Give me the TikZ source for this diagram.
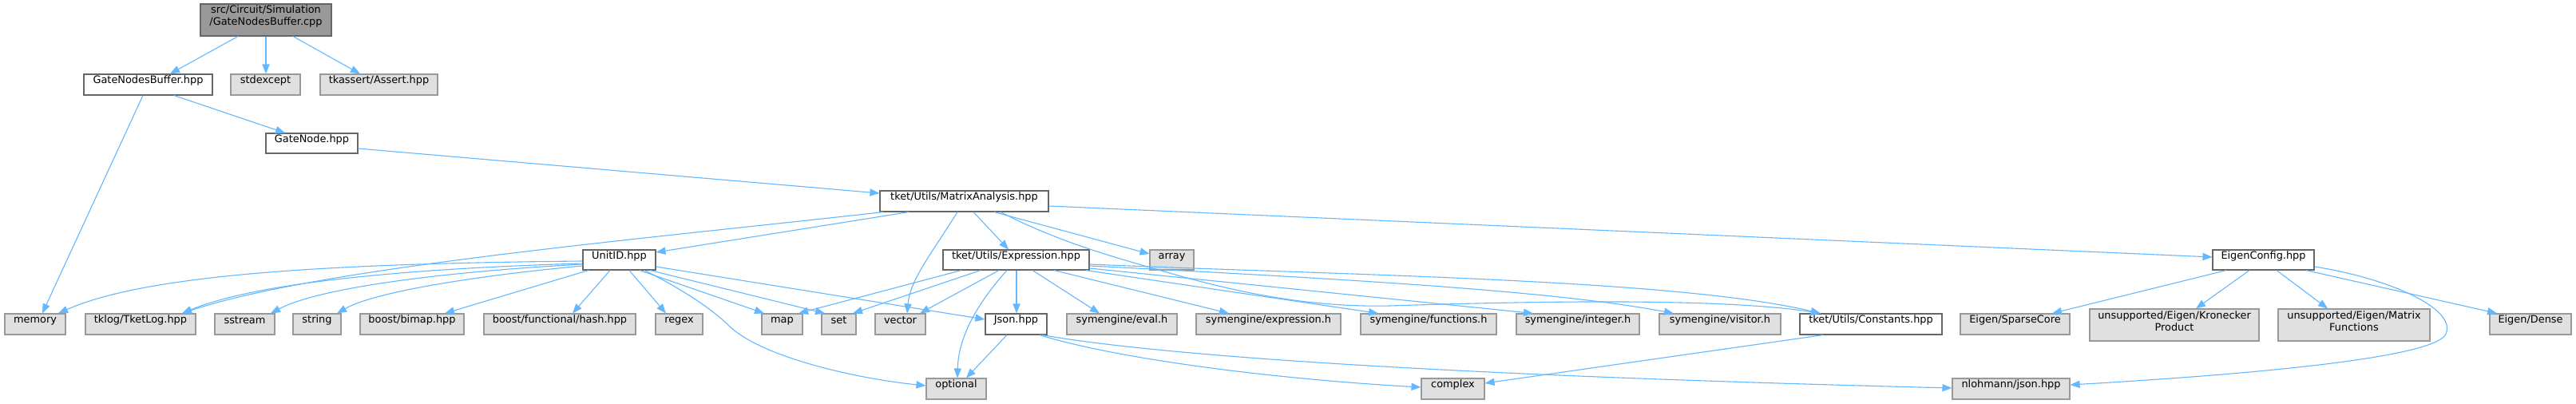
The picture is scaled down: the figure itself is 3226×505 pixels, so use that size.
\documentclass[tikz,border=0pt]{standalone}
\usepackage{fontspec}
\newfontfamily\dvs{DejaVu Sans}
\usetikzlibrary{fit,arrows.meta}
\definecolor{edgec}{HTML}{63B8FF}
\definecolor{extfill}{HTML}{E0E0E0}
\definecolor{extdraw}{HTML}{999999}
\definecolor{locdraw}{HTML}{666666}
\definecolor{rootfill}{HTML}{999999}
\tikzset{
 box/.style={draw, rectangle, inner sep=0pt, line width=0.55pt, align=center,
   font={\dvs\fontsize{6.45pt}{7.4pt}\selectfont}},
 ext/.style={box, fill=extfill, draw=extdraw},
 loc/.style={box, fill=white, draw=locdraw},
 root/.style={box, fill=rootfill, draw=locdraw},
 dep/.style={draw=edgec, line width=0.55pt, -{Triangle[length=6pt,width=4.6pt]}},
}
\begin{document}
\begin{tikzpicture}[x=0.5pt,y=-0.5pt]
\fill[white] (0,0) rectangle (3226,505);
\useasboundingbox (0,0) rectangle (3226,505);
% nodes
\node[root, fit={(251,5) (415,45)}] (cpp) {src/Circuit/Simulation\\/GateNodesBuffer.cpp};
\node[loc, fit={(105,93) (266,119)}] (gnb) {GateNodesBuffer.hpp};
\node[ext, fit={(289,93) (376,119)}] (stdexcept) {stdexcept};
\node[ext, fit={(401,93) (548,119)}] (assert) {tkassert/Assert.hpp};
\node[loc, fit={(333,167) (448,192)}] (gatenode) {GateNode.hpp};
\node[loc, fit={(1102,239) (1313,265)}] (ma) {tket/Utils/MatrixAnalysis.hpp};
\node[loc, fit={(730,313) (821,338)}] (unitid) {UnitID.hpp};
\node[loc, fit={(1181,313) (1364,338)}] (expr) {tket/Utils/Expression.hpp};
\node[ext, fit={(1440,313) (1495,338)}] (array) {array};
\node[loc, fit={(2771,313) (2898,338)}] (ec) {EigenConfig.hpp};
\node[ext, fit={(6,393) (82,419)}] (memory) {memory};
\node[ext, fit={(107,393) (245,419)}] (tklog) {tklog/TketLog.hpp};
\node[ext, fit={(269,393) (344,419)}] (sstream) {sstream};
\node[ext, fit={(367,393) (427,419)}] (string) {string};
\node[ext, fit={(451,393) (581,419)}] (bimap) {boost/bimap.hpp};
\node[ext, fit={(606,393) (796,419)}] (hash) {boost/functional/hash.hpp};
\node[ext, fit={(821,393) (880,419)}] (regex) {regex};
\node[ext, fit={(954,393) (1005,419)}] (map) {map};
\node[ext, fit={(1029,393) (1072,419)}] (set) {set};
\node[ext, fit={(1096,393) (1159,419)}] (vector) {vector};
\node[loc, fit={(1234,393) (1311,419)}] (json) {Json.hpp};
\node[ext, fit={(1336,393) (1474,419)}] (eval) {symengine/eval.h};
\node[ext, fit={(1498,393) (1679,419)}] (symexpr) {symengine/expression.h};
\node[ext, fit={(1704,393) (1874,419)}] (functions) {symengine/functions.h};
\node[ext, fit={(1899,393) (2053,419)}] (integer) {symengine/integer.h};
\node[ext, fit={(2078,393) (2230,419)}] (visitor) {symengine/visitor.h};
\node[loc, fit={(2254,393) (2432,419)}] (constants) {tket/Utils/Constants.hpp};
\node[ext, fit={(2455,393) (2592,419)}] (sparse) {Eigen/SparseCore};
\node[ext, fit={(2617,387) (2829,427)}] (kron) {unsupported/Eigen/Kronecker\\Product};
\node[ext, fit={(2853,387) (3043,427)}] (matfun) {unsupported/Eigen/Matrix\\Functions};
\node[ext, fit={(3118,393) (3220,419)}] (dense) {Eigen/Dense};
\node[ext, fit={(1160,474) (1235,500)}] (optional) {optional};
\node[ext, fit={(1780,474) (1859,500)}] (complex) {complex};
\node[ext, fit={(2445,474) (2592,500)}] (nlohmann) {nlohmann/json.hpp};
% edges
\draw[dep] (cpp.south -| 298,0) -- (gnb.north -| 213,0);
\draw[dep] (cpp.south -| 333,0) -- (stdexcept.north -| 333,0);
\draw[dep] (cpp.south -| 367,0) -- (assert.north -| 451,0);
\draw[dep] (gnb.south -| 218,0) -- (gatenode.north -| 357,0);
\draw[dep] (gnb.south -| 179,0) -- (memory.north -| 53,0);
\draw[dep] (gatenode.east |- 0,186) -- (ma.west |- 0,242);
\draw[dep] (ma.south -| 1138,0) -- (unitid.east |- 0,316);
\draw[dep] (ma.south -| 1106,0) .. controls (800,300) and (400,335) .. (tklog.north -| 228,0);
\draw[dep] (ma.south -| 1199,0) .. controls (1165,320) and (1140,350) .. (vector.north -| 1136,0);
\draw[dep] (ma.south -| 1219,0) -- (expr.north -| 1263,0);
\draw[dep] (ma.south -| 1245,0) -- (array.west |- 0,318);
\draw[dep] (ma.east |- 0,258) -- (ec.west |- 0,322);
\draw[dep] (ma.south -| 1253,0) .. controls (1320,300) and (1380,318) .. (1458,340)
   .. controls (1560,370) and (1650,385) .. (1740,383)
   .. controls (1900,378) and (2150,372) .. (constants.north -| 2280,0);
% Expression
\draw[dep] (expr.south -| 1204,0) -- (map.north -| 1000,0);
\draw[dep] (expr.south -| 1228,0) -- (set.north -| 1068,0);
\draw[dep] (expr.south -| 1251,0) -- (vector.north -| 1152,0);
\draw[dep] (expr.south -| 1261,0) .. controls (1215,390) and (1200,430) .. (optional.north -| 1199,0);
\draw[dep] (expr.south -| 1273,0) -- (json.north -| 1273,0);
\draw[dep] (expr.south -| 1293,0) -- (eval.north -| 1377,0);
\draw[dep] (expr.south -| 1320,0) -- (symexpr.north -| 1539,0);
\draw[dep] (expr.south -| 1360,0) -- (functions.north -| 1726,0);
\draw[dep] (expr.east |- 0,336) -- (integer.north -| 1920,0);
\draw[dep] (expr.east |- 0,333) .. controls (1700,350) and (1950,365) .. (visitor.north -| 2096,0);
\draw[dep] (expr.east |- 0,331) .. controls (1700,345) and (2100,350) .. (constants.north -| 2280,0);
% Json, Constants
\draw[dep] (json.south -| 1261,0) -- (optional.north -| 1210,0);
\draw[dep] (json.south -| 1302,0) .. controls (1400,450) and (1600,475) .. (complex.west |- 0,485);
\draw[dep] (json.south -| 1305,0) .. controls (1450,445) and (1800,470) .. (nlohmann.west |- 0,486);
\draw[dep] (constants.south -| 2283,0) -- (complex.east |- 0,480);
% EigenConfig
\draw[dep] (ec.south -| 2788,0) -- (sparse.north -| 2570,0);
\draw[dep] (ec.south -| 2817,0) -- (kron.north -| 2750,0);
\draw[dep] (ec.south -| 2851,0) -- (matfun.north -| 2915,0);
\draw[dep] (ec.south -| 2888,0) -- (dense.north -| 3127,0);
\draw[dep] (ec.east |- 0,334) .. controls (3000,350) and (3080,390) .. (3062,420)
   .. controls (3040,450) and (2800,470) .. (nlohmann.east |- 0,482);
% UnitID
\draw[dep] (unitid.west |- 0,327) .. controls (400,330) and (180,345) .. (memory.north -| 73,0);
\draw[dep] (unitid.west |- 0,330) .. controls (550,335) and (330,350) .. (tklog.north -| 228,0);
\draw[dep] (unitid.west |- 0,331) .. controls (560,340) and (400,360) .. (sstream.north -| 339,0);
\draw[dep] (unitid.west |- 0,333) .. controls (600,345) and (470,365) .. (string.north -| 422,0);
\draw[dep] (unitid.south -| 737,0) -- (bimap.north -| 557,0);
\draw[dep] (unitid.south -| 764,0) -- (hash.north -| 717,0);
\draw[dep] (unitid.south -| 788,0) -- (regex.north -| 834,0);
\draw[dep] (unitid.south -| 801,0) -- (map.north -| 957,0);
\draw[dep] (unitid.south -| 814,0) -- (set.north -| 1033,0);
\draw[dep] (unitid.south -| 807,0) .. controls (850,360) and (890,385) .. (915,410)
   .. controls (960,450) and (1080,475) .. (optional.west |- 0,483);
\draw[dep] (unitid.east |- 0,334) -- (json.west |- 0,400);
\end{tikzpicture}
\end{document}
